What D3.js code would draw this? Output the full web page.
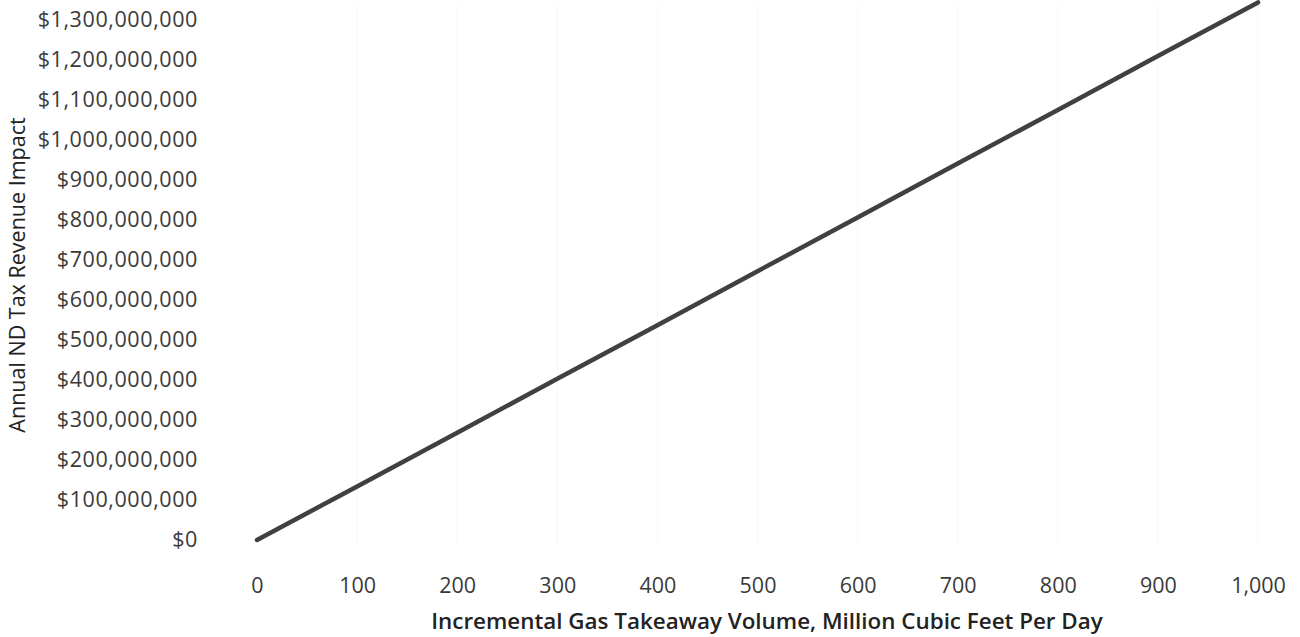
<!DOCTYPE html>
<html><head><meta charset="utf-8">
<script src="https://cdn.jsdelivr.net/npm/d3@7"></script>
<style>body{margin:0;background:#fff;}svg{display:block;}</style>
</head><body>
<svg id="c" width="1300" height="637"></svg>
<script>
const volumes = [0, 100, 200, 300, 400, 500, 600, 700, 800, 900, 1000];
const revenue = [0, 134e6, 268e6, 403e6, 537e6, 672e6, 806e6, 941e6, 1075e6, 1210e6, 1344e6];
const yTicks = [0,1e8,2e8,3e8,4e8,5e8,6e8,7e8,8e8,9e8,10e8,11e8,12e8,13e8];
const xTicks = [0,100,200,300,400,500,600,700,800,900,1000];
const xTitle = "Incremental Gas Takeaway Volume, Million Cubic Feet Per Day";
const yTitle = "Annual ND Tax Revenue Impact";

const svg = d3.select("#c");
const font = "'Open Sans', sans-serif";
const x = d3.scaleLinear().domain([0,1000]).range([257,1258]);
const y = d3.scaleLinear().domain([0,1.3e9]).range([540,20]);

const fmtY = d3.format("$,");
const fmtX = d3.format(",");

// faint gridlines
svg.append("g").selectAll("line").data(xTicks.slice(1)).join("line")
  .attr("x1", d=>x(d)).attr("x2", d=>x(d)).attr("y1", 5).attr("y2", 545)
  .attr("stroke", "#f7f7f7").attr("stroke-width", 1);

const yAxis = svg.append("g").attr("transform","translate(198,0)")
  .call(d3.axisLeft(y).tickValues(yTicks).tickFormat(fmtY).tickSize(0).tickPadding(0));
yAxis.select(".domain").remove();
yAxis.selectAll("text").attr("font-family", font).attr("font-size", 21.5)
  .attr("letter-spacing", "0.6px").attr("fill","#3a3a3a");

const xAxis = svg.append("g").attr("transform","translate(0,578)")
  .call(d3.axisBottom(x).tickValues(xTicks).tickFormat(fmtX).tickSize(0).tickPadding(0));
xAxis.select(".domain").remove();
xAxis.selectAll("text").attr("font-family", font).attr("font-size", 21.5).attr("fill","#3a3a3a");

const line = d3.line().x((d,i)=>x(volumes[i])).y(d=>y(d));
svg.append("path").datum(revenue).attr("d", line)
  .attr("fill","none").attr("stroke","#404040").attr("stroke-width",4.5).attr("stroke-linecap","round");

svg.append("text").attr("x", 767).attr("y", 629).attr("text-anchor","middle")
  .attr("font-family", font).attr("font-size", 22.4).attr("font-weight", 600).attr("fill","#222")
  .text(xTitle);

svg.append("text").attr("transform","translate(25,275) rotate(-90)").attr("text-anchor","middle")
  .attr("font-family", font).attr("font-size", 21.5).attr("fill","#222")
  .text(yTitle);
</script>
</body></html>
